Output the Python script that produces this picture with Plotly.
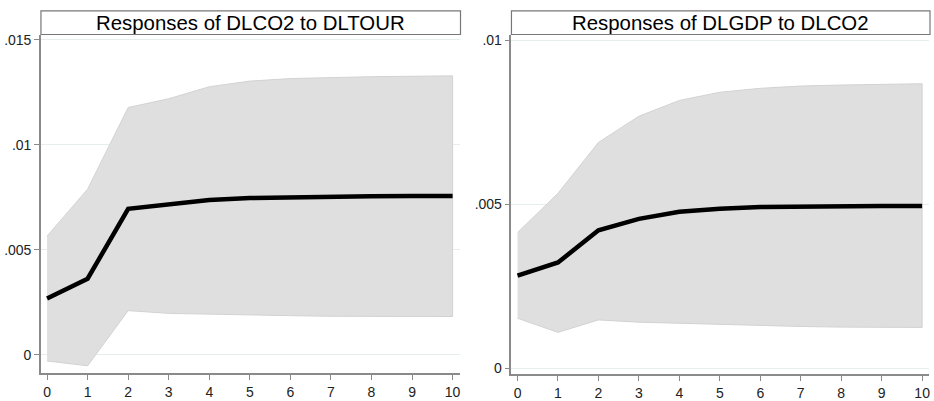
import plotly.graph_objects as go

steps = list(range(11))

# Panel 1: Responses of DLCO2 to DLTOUR
irf1 = [0.00268, 0.00362, 0.00695, 0.00714, 0.00737, 0.00747, 0.00751, 0.00754, 0.00755, 0.00756, 0.00756]
up1 = [0.00565, 0.00789, 0.01178, 0.0122, 0.01277, 0.01304, 0.01316, 0.01322, 0.01325, 0.01327, 0.01329]
lo1 = [-0.0003, -0.00053, 0.0021, 0.00197, 0.00192, 0.00189, 0.00186, 0.00183, 0.00182, 0.00182, 0.00182]

# Panel 2: Responses of DLGDP to DLCO2
irf2 = [0.00282, 0.00322, 0.0042, 0.00455, 0.00477, 0.00486, 0.00491, 0.00493, 0.00494, 0.00494, 0.00494]
up2 = [0.00413, 0.00533, 0.00688, 0.00768, 0.00816, 0.00841, 0.00853, 0.0086, 0.00863, 0.00865, 0.00867]
lo2 = [0.00152, 0.00109, 0.00147, 0.0014, 0.00138, 0.00134, 0.0013, 0.00127, 0.00125, 0.00124, 0.00124]

titles = ["Responses of DLCO2 to DLTOUR", "Responses of DLGDP to DLCO2"]
yticks1 = [0, 0.005, 0.01, 0.015]
ylabels1 = ["0", ".005", ".01", ".015"]
yticks2 = [0, 0.005, 0.01]
ylabels2 = ["0", ".005", ".01"]

W, H = 934, 401
FONT = "Liberation Sans, Arial, sans-serif"
BAND = "#dfdfdf"
AX = "#8a8a8a"
GRID = "#e6eeee"

fig = go.Figure()

panels = [
    (irf1, up1, lo1, "x", "y"),
    (irf2, up2, lo2, "x2", "y2"),
]
for irf, up, lo, xa, ya in panels:
    fig.add_trace(go.Scatter(x=steps + steps[::-1], y=up + lo[::-1], fill="toself",
                             fillcolor=BAND, line=dict(color="#d2d2d2", width=1),
                             mode="lines", xaxis=xa, yaxis=ya, showlegend=False,
                             hoverinfo="skip"))
    fig.add_trace(go.Scatter(x=steps, y=irf, mode="lines",
                             line=dict(color="black", width=4.5),
                             xaxis=xa, yaxis=ya, showlegend=False))

# geometry in pixels
p1 = dict(x0=41, x1=460, ytop=32, ybot=376)
p2 = dict(x0=512, x1=930, ytop=32, ybot=377)

def xdom(p):
    return [p["x0"] / W, p["x1"] / W]

def ydom(p):
    return [1 - p["ybot"] / H, 1 - p["ytop"] / H]

common_x = dict(range=[-0.15, 10.17], tickmode="array", tickvals=steps,
                ticktext=[str(s) for s in steps], ticks="outside", ticklen=5,
                tickcolor=AX, showline=True, linecolor=AX, linewidth=1.5,
                showgrid=False, zeroline=False,
                tickfont=dict(family=FONT, size=14, color="#222"))
common_y = dict(ticks="outside", ticklen=5, tickcolor=AX, showline=True,
                linecolor=AX, linewidth=1.5, showgrid=True, gridcolor=GRID,
                gridwidth=1, zeroline=False, tickmode="array",
                tickfont=dict(family=FONT, size=14, color="#222"))

fig.update_layout(
    width=W, height=H,
    margin=dict(l=0, r=0, t=0, b=0),
    paper_bgcolor="white", plot_bgcolor="white",
    xaxis=dict(domain=xdom(p1), anchor="y", **common_x),
    yaxis=dict(domain=ydom(p1), anchor="x", range=[-0.00089, 0.01526],
               tickvals=yticks1, ticktext=ylabels1, **common_y),
    xaxis2=dict(domain=xdom(p2), anchor="y2", **common_x),
    yaxis2=dict(domain=ydom(p2), anchor="x2", range=[-0.00019, 0.01017],
                tickvals=yticks2, ticktext=ylabels2, **common_y),
)

for p, t in [(p1, titles[0]), (p2, titles[1])]:
    fig.add_shape(type="rect", xref="paper", yref="paper",
                  x0=p["x0"] / W, x1=(p["x1"] + 1) / W,
                  y0=1 - 32 / H, y1=1 - 8 / H,
                  line=dict(color="#777", width=1.2), fillcolor="white", layer="above")
    fig.add_annotation(text=t, xref="paper", yref="paper",
                       x=(p["x0"] + p["x1"]) / 2 / W, y=1 - 20 / H,
                       xanchor="center", yanchor="middle", showarrow=False,
                       font=dict(family=FONT, size=20.4, color="black"))

fig.write_html("out.html", config={"displayModeBar": False},
               post_script="document.body.style.margin='0';document.body.style.overflow='hidden';")
